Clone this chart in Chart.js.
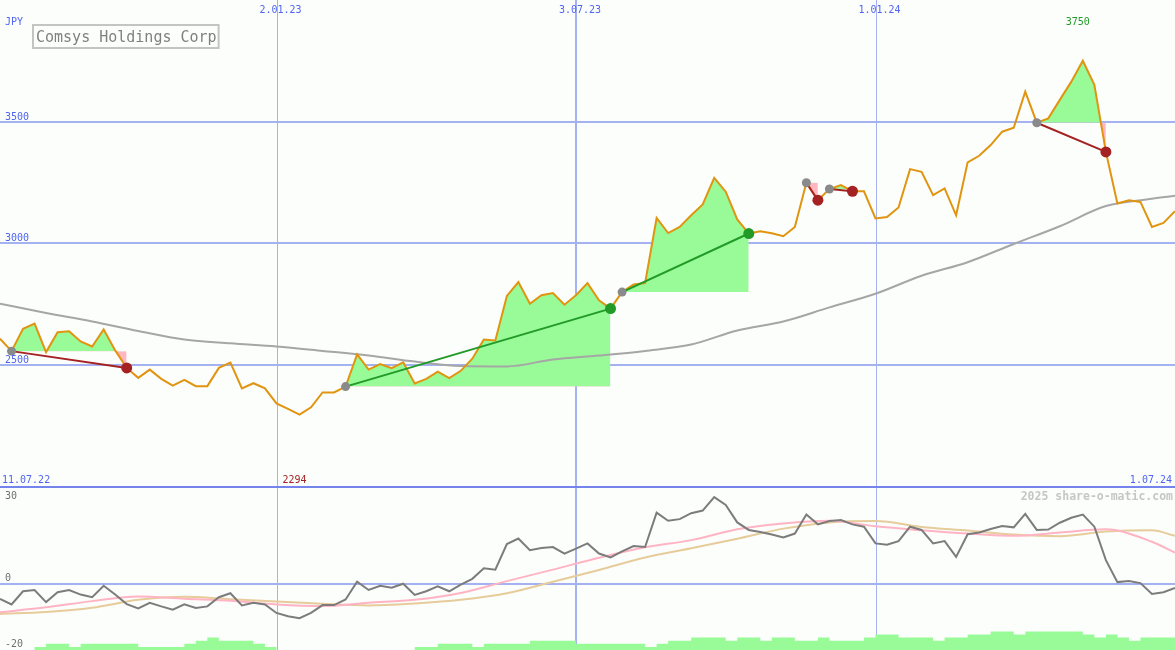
<!DOCTYPE html>
<html>
<head>
<meta charset="utf-8">
<title>Comsys Holdings Corp</title>
<script src="https://cdn.jsdelivr.net/npm/chart.js@4.4.0/dist/chart.umd.min.js"></script>
<style>
    html, body { margin: 0; padding: 0; background: #fcfefc; }
    #wrap { position: relative; width: 1175px; height: 650px; overflow: hidden; }
    canvas { position: absolute; left: 0; }
    #top { top: 0; }
    #bottom { top: 486px; }
</style>
</head>
<body>
<div id="wrap">
    <canvas id="top" width="1175" height="486"></canvas>
    <canvas id="bottom" width="1175" height="164"></canvas>
</div>
<script>
// Weekly closes in JPY, one value per week (week 0 = left edge)
const price = [
    2606, 2555, 2647, 2668, 2551, 2633, 2637, 2595, 2574, 2644, 2558, 2486, 2445,
    2479, 2441, 2413, 2437, 2411, 2411, 2486, 2508, 2402, 2423, 2402, 2340, 2317,
    2294, 2324, 2385, 2385, 2409, 2542, 2479, 2502, 2485, 2509, 2422, 2441, 2471,
    2444, 2474, 2524, 2603, 2599, 2782, 2839, 2750, 2785, 2794, 2746, 2785, 2835,
    2764, 2730, 2798, 2829, 2835, 3103, 3041, 3066, 3114, 3159, 3268, 3211, 3097,
    3039, 3048, 3040, 3028, 3066, 3248, 3176, 3222, 3238, 3213, 3213, 3101, 3107,
    3146, 3304, 3293, 3197, 3225, 3114, 3332, 3359, 3403, 3458, 3474, 3623, 3495,
    3513, 3589, 3664, 3750, 3651, 3375, 3163, 3176, 3169, 3066, 3083, 3131
];

// Long moving average, read every 4 weeks
const maWeeks = [0, 4, 8, 12, 16, 20, 24, 28, 32, 36, 40, 44, 48, 52, 56, 60, 64, 68, 72, 76, 80, 84, 88, 92, 96, 100, 102];
const movingAvg = [
    2750, 2712, 2677, 2638, 2603, 2587, 2574, 2556, 2537, 2512, 2494, 2492, 2521, 2537,
    2556, 2582, 2640, 2677, 2735, 2791, 2865, 2921, 2996, 3069, 3152, 3182, 3194
];

// Lower panel: momentum per week
const momentum = [
    -4.4, -6.1, -2.1, -1.7, -5.4, -2.4, -1.7, -3.1, -3.9, -0.4, -3.1, -6.0, -7.3,
    -5.6, -6.7, -7.7, -6.1, -7.2, -6.7, -3.9, -2.7, -6.4, -5.6, -6.1, -8.7, -9.7,
    -10.3, -8.7, -6.3, -6.3, -4.6, 0.8, -1.7, -0.4, -1.0, 0.2, -3.2, -2.1, -0.6,
    -2.1, -0.1, 1.7, 4.9, 4.5, 12.3, 14.0, 10.4, 11.1, 11.4, 9.4, 10.9, 12.5,
    9.4, 8.2, 10.1, 11.7, 11.4, 21.9, 19.4, 19.9, 21.7, 22.5, 26.6, 24.2, 18.9,
    16.6, 16.0, 15.2, 14.3, 15.5, 21.3, 18.3, 19.3, 19.6, 18.3, 17.6, 12.5, 12.1,
    13.2, 17.6, 16.6, 12.5, 13.2, 8.4, 15.3, 15.8, 16.9, 17.8, 17.4, 21.5, 16.6,
    16.7, 18.8, 20.3, 21.3, 17.6, 7.4, 0.7, 1.0, 0.4, -2.9, -2.4, -1.1
];

// Signal lines, read every 4 weeks (same weeks as maWeeks)
const signalFast = [
    -8.5, -7.0, -5.1, -3.7, -4.4, -5.0, -6.1, -6.6, -5.6, -4.7, -2.6, 1.0, 4.5, 8.1,
    11.3, 13.5, 16.8, 18.6, 19.4, 17.7, 16.5, 15.5, 14.8, 15.8, 16.8, 13.0, 9.7
];
const signalSlow = [
    -9.0, -8.4, -7.1, -4.7, -3.8, -4.5, -5.2, -5.9, -6.4, -5.8, -4.7, -2.7, 0.8, 4.4,
    8.2, 11.0, 13.9, 17.0, 18.9, 19.3, 17.5, 16.4, 15.2, 14.7, 16.1, 16.5, 14.8
];

// Volume level per week (green steps at the bottom)
const volume = [
    0, 0, 0, 0, 1, 2, 2, 1, 2, 2, 2, 2, 2, 1, 1, 1, 1, 2, 3, 4, 3, 3, 3, 2, 1,
    0, 0, 0, 0, 0, 0, 0, 0, 0, 0, 0, 0, 1, 1, 2, 2, 2, 1, 2, 2, 2, 2, 3, 3, 3, 3,
    2, 2, 2, 2, 2, 2, 1, 2, 3, 3, 4, 4, 4, 3, 4, 4, 3, 4, 4, 3, 3, 4, 3, 3, 3, 4,
    5, 5, 4, 4, 4, 3, 4, 4, 5, 5, 6, 6, 5, 6, 6, 6, 6, 6, 5, 4, 5, 4, 3, 4, 4, 4
];

// Trades: entry and exit week
const tradeEntry = [1, 30, 54, 70, 72, 90];
const tradeExit = [11, 53, 65, 71, 74, 96];

// Axis labels
const yTicks = [2500, 3000, 3500];
const subTicks = [30, 0, -20];
const xTickWeeks = [24, 50, 76];
const xTickLabels = ['2.01.23', '3.07.23', '1.01.24'];
const startLabel = '11.07.22';
const endLabel = '1.07.24';
const currency = 'JPY';
const title = 'Comsys Holdings Corp';
const credit = '2025 share-o-matic.com';

// Colours
const GRID = '#a4b2f2';
const LABEL = '#5064f0';
const GAIN_FILL = '#98fb98';
const LOSS_FILL = '#ffb6c1';
const WIN = '#229a28';
const LOSS = '#a52222';
const MONO = '"DejaVu Sans Mono", monospace';

const pts = (xs, ys) => ys.map((v, i) => ({ x: xs ? xs[i] : i, y: v }));

// Grid lines, drawn under the datasets
function gridPlugin(hTicks) {
    return {
        id: 'grid',
        beforeDatasetsDraw(chart) {
            const { ctx, chartArea: a, scales: { x, y } } = chart;
            ctx.save();
            ctx.fillStyle = GRID;
            hTicks.forEach(v => {
                const py = Math.round(y.getPixelForValue(v));
                ctx.fillRect(a.left, py - 1, a.right - a.left, 2);
            });
            xTickWeeks.forEach((w, k) => {
                const px = Math.round(x.getPixelForValue(w) + 0.5);
                const lw = k === 1 ? 2 : 1;
                ctx.fillRect(px - (lw - 1), a.top, lw, a.bottom - a.top);
            });
            ctx.restore();
        }
    };
}

const topLabels = {
    id: 'topLabels',
    afterDraw(chart) {
        const { ctx, chartArea: a, scales: { x, y } } = chart;
        ctx.save();
        ctx.font = '10px ' + MONO;
        ctx.fillStyle = LABEL;
        ctx.textAlign = 'left';
        ctx.fillText(currency, 5, 25);
        yTicks.forEach(v => ctx.fillText(String(v), 5, y.getPixelForValue(v) - 2));
        ctx.textAlign = 'center';
        xTickWeeks.forEach((w, k) => ctx.fillText(xTickLabels[k], x.getPixelForValue(w) + 4, 13));
        ctx.textAlign = 'left';
        ctx.fillText(startLabel, 2, a.bottom - 3);
        ctx.textAlign = 'right';
        ctx.fillText(endLabel, a.right - 3, a.bottom - 3);

        // lowest and highest close
        const lo = Math.min(...price), hi = Math.max(...price);
        ctx.textAlign = 'center';
        ctx.fillStyle = LOSS;
        ctx.fillText(String(lo), x.getPixelForValue(price.indexOf(lo)) - 5, a.bottom - 3);
        ctx.fillStyle = WIN;
        ctx.fillText(String(hi), x.getPixelForValue(price.indexOf(hi)) - 5, 25);

        // title box
        ctx.font = '15px ' + MONO;
        const tw = ctx.measureText(title).width;
        ctx.strokeStyle = '#c4c4c4';
        ctx.lineWidth = 2;
        ctx.strokeRect(33, 25, tw + 5, 23);
        ctx.fillStyle = '#808080';
        ctx.textAlign = 'left';
        ctx.fillText(title, 36, 42);
        ctx.restore();
    }
};

const bottomLabels = {
    id: 'bottomLabels',
    afterDraw(chart) {
        const { ctx, chartArea: a, scales: { y } } = chart;
        ctx.save();
        ctx.fillStyle = '#7484ec';
        ctx.fillRect(a.left, a.top, a.right - a.left, 2);
        ctx.font = '10px ' + MONO;
        ctx.fillStyle = '#707070';
        ctx.textAlign = 'left';
        subTicks.forEach(v => {
            const py = y.getPixelForValue(v);
            const base = py - a.top < 12 ? py + 13 : py - 3;
            ctx.fillText(String(v), 5, base);
        });
        ctx.font = 'bold 11.5px ' + MONO;
        ctx.fillStyle = '#c6c6c6';
        ctx.textAlign = 'right';
        ctx.fillText(credit, a.right - 2, 14);
        ctx.restore();
    }
};

// Upper panel datasets
const topSets = [];
topSets.push({
    data: tradeEntry.map(i => ({ x: i, y: price[i] })),
    showLine: false, pointRadius: 4.5, pointBorderWidth: 0,
    pointBackgroundColor: '#8a8a8a', order: 0
});
topSets.push({
    data: tradeExit.map(i => ({ x: i, y: price[i] })),
    showLine: false, pointRadius: 5.5, pointBorderWidth: 0,
    pointBackgroundColor: tradeExit.map((e, k) => price[e] > price[tradeEntry[k]] ? WIN : LOSS),
    order: 0
});
tradeEntry.forEach((s, k) => {
    const e = tradeExit[k];
    const win = price[e] > price[s];
    topSets.push({
        data: [{ x: s, y: price[s] }, { x: e, y: price[e] }],
        borderColor: win ? WIN : LOSS, borderWidth: 2, pointRadius: 0, order: 1
    });
    topSets.push({
        data: price.slice(s, e + 1).map((v, j) => ({ x: s + j, y: v })),
        borderWidth: 0, borderColor: 'rgba(0,0,0,0)', pointRadius: 0,
        fill: { target: { value: price[s] }, above: GAIN_FILL, below: LOSS_FILL },
        order: 4
    });
});
topSets.push({
    data: pts(null, price),
    borderColor: '#e09410', borderWidth: 2, pointRadius: 0, order: 2
});
topSets.push({
    data: pts(maWeeks, movingAvg),
    borderColor: '#a6a6a6', borderWidth: 2, pointRadius: 0,
    cubicInterpolationMode: 'monotone', order: 3
});

new Chart(document.getElementById('top'), {
    type: 'line',
    data: { datasets: topSets },
    options: {
        responsive: false,
        animation: false,
        events: [],
        layout: { padding: 0, autoPadding: false },
        plugins: { legend: { display: false }, tooltip: { enabled: false } },
        scales: {
            x: { type: 'linear', min: 0, max: 102, display: false },
            y: { min: 2000, max: 4000, display: false }
        },
        elements: { line: { tension: 0 } }
    },
    plugins: [gridPlugin(yTicks), topLabels]
});

// Lower panel
new Chart(document.getElementById('bottom'), {
    type: 'line',
    data: {
        datasets: [
            {
                data: pts(null, momentum),
                borderColor: '#7c7c7c', borderWidth: 2, pointRadius: 0, order: 0
            },
            {
                data: pts(maWeeks, signalFast),
                borderColor: '#ffb4c4', borderWidth: 2, pointRadius: 0,
                cubicInterpolationMode: 'monotone', order: 1
            },
            {
                data: pts(maWeeks, signalSlow),
                borderColor: '#e6cc9a', borderWidth: 2, pointRadius: 0,
                cubicInterpolationMode: 'monotone', order: 2
            },
            {
                data: pts(null, volume),
                yAxisID: 'yv',
                stepped: 'after',
                borderWidth: 0, borderColor: 'rgba(0,0,0,0)', pointRadius: 0,
                backgroundColor: GAIN_FILL, fill: 'start', order: 3
            }
        ]
    },
    options: {
        responsive: false,
        animation: false,
        events: [],
        layout: { padding: 0, autoPadding: false },
        plugins: { legend: { display: false }, tooltip: { enabled: false } },
        scales: {
            x: { type: 'linear', min: 0, max: 102, display: false },
            y: { min: -20, max: 30, display: false },
            yv: { min: 0, max: 53, display: false }
        },
        elements: { line: { tension: 0 } }
    },
    plugins: [gridPlugin([0]), bottomLabels]
});
</script>
</body>
</html>
